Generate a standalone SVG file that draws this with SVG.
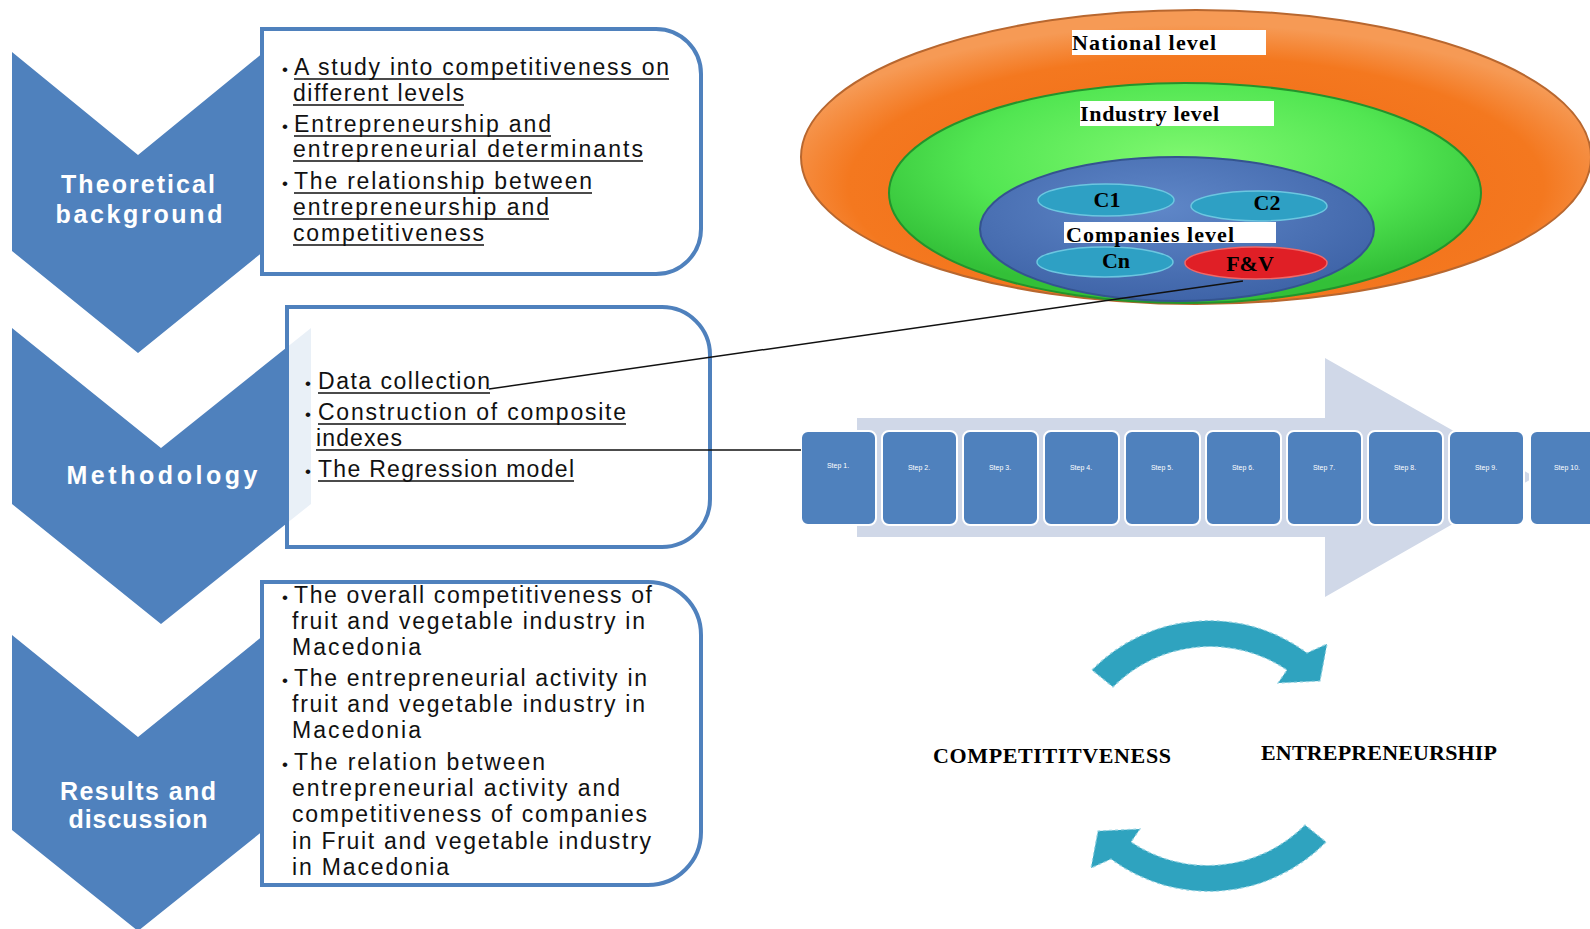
<svg xmlns="http://www.w3.org/2000/svg" width="1590" height="929" viewBox="0 0 1590 929">
  <defs>
    <style>
      .chev { fill: #4f81bd; }
      .box { fill: #ffffff; fill-opacity: 0.88; stroke: #4f81bd; stroke-width: 4; }
      .bt { font-family: "Liberation Sans", Arial, sans-serif; font-size: 23px; fill: #111111; }
      .bul { font-family: "Liberation Sans", Arial, sans-serif; font-size: 17px; fill: #111111; text-anchor: middle; }
      .ul { stroke: #111111; stroke-width: 1.5; fill: none; }
      .lab { font-family: "Liberation Sans", Arial, sans-serif; font-weight: bold; font-size: 25px; fill: #ffffff; text-anchor: middle; }
      .lvl { font-family: "Liberation Serif", "Times New Roman", serif; font-weight: bold; font-size: 22px; fill: #000000; }
      .cid { font-family: "Liberation Serif", "Times New Roman", serif; font-weight: bold; font-size: 22px; fill: #000000; text-anchor: middle; }
      .cap { font-family: "Liberation Serif", "Times New Roman", serif; font-weight: bold; font-size: 22px; fill: #000000; }
      .tag { fill: #ffffff; }
      .step { fill: #4f81bd; stroke: #ffffff; stroke-width: 2; }
      .st { font-family: "Liberation Sans", Arial, sans-serif; font-size: 7px; fill: #ffffff; text-anchor: middle; }
      .cyc { fill: #2fa3bf; stroke: #8fd0e0; stroke-width: 1.2; stroke-dasharray: 3 3; }
      .conn { stroke: #111111; stroke-width: 1.5; fill: none; }
    </style>
    <radialGradient id="gOrange" cx="50%" cy="60%" r="55%">
      <stop offset="0" stop-color="#f06816"/>
      <stop offset="0.8" stop-color="#f4781f"/>
      <stop offset="1" stop-color="#f69a55"/>
    </radialGradient>
    <radialGradient id="gGreen" cx="50%" cy="35%" r="60%">
      <stop offset="0" stop-color="#80f870"/>
      <stop offset="0.6" stop-color="#52e652"/>
      <stop offset="1" stop-color="#33c038"/>
    </radialGradient>
    <radialGradient id="gBlue" cx="45%" cy="35%" r="65%">
      <stop offset="0" stop-color="#5f87c8"/>
      <stop offset="1" stop-color="#3f64a8"/>
    </radialGradient>
  </defs>

  <rect x="0" y="0" width="1590" height="929" fill="#ffffff"/>

  <!-- Left-hand process: chevrons with their bullet boxes -->
  <g id="theoretical-background">
    <path class="chev" d="M12,52 L138,155 L264,52 L264,251 L138,353 L12,251 Z"/>
    <text class="lab" x="138" y="193" textLength="154" lengthAdjust="spacing">Theoretical</text>
    <text class="lab" x="139" y="223" textLength="167" lengthAdjust="spacing">background</text>
  </g>
  <g id="methodology">
    <path class="chev" d="M12,328 L161,448 L311,328 L311,504 L161,624 L12,504 Z"/>
    <text class="lab" x="162" y="484" textLength="191" lengthAdjust="spacing">Methodology</text>
  </g>
  <g id="results-discussion">
    <path class="chev" d="M12,635 L138,737 L264,635 L264,830 L138,931 L12,830 Z"/>
    <text class="lab" x="138" y="800" textLength="156" lengthAdjust="spacing">Results and</text>
    <text class="lab" x="138" y="828" textLength="139" lengthAdjust="spacing">discussion</text>
  </g>

  <g id="box-theory">
    <path class="box" d="M262,29 H656 A45,45 0 0 1 701,74 V229 A45,45 0 0 1 656,274 H262 Z"/>
    <text class="bul" x="285" y="75">•</text>
    <text class="bt" x="294" y="75" textLength="375" lengthAdjust="spacing">A study into competitiveness on</text>
    <text class="bt" x="293" y="101" textLength="171" lengthAdjust="spacing">different levels</text>
    <text class="bul" x="285" y="132">•</text>
    <text class="bt" x="294" y="132" textLength="257" lengthAdjust="spacing">Entrepreneurship and</text>
    <text class="bt" x="293" y="157" textLength="350" lengthAdjust="spacing">entrepreneurial determinants</text>
    <text class="bul" x="285" y="189">•</text>
    <text class="bt" x="294" y="189" textLength="298" lengthAdjust="spacing">The relationship between</text>
    <text class="bt" x="293" y="215" textLength="256" lengthAdjust="spacing">entrepreneurship and</text>
    <text class="bt" x="293" y="241" textLength="191" lengthAdjust="spacing">competitiveness</text>
    <path class="ul" d="M294,79 H669 M293,105 H464 M294,136 H551 M293,161 H643 M294,193 H592 M293,219 H549 M293,245 H484"/>
  </g>

  <g id="box-method">
    <path class="box" d="M287,307 H662 A48,48 0 0 1 710,355 V499 A48,48 0 0 1 662,547 H287 Z"/>
    <text class="bul" x="308" y="389">•</text>
    <text class="bt" x="318" y="389" textLength="172" lengthAdjust="spacing">Data collection</text>
    <text class="bul" x="308" y="420">•</text>
    <text class="bt" x="318" y="420" textLength="308" lengthAdjust="spacing">Construction of composite</text>
    <text class="bt" x="316" y="446" textLength="86" lengthAdjust="spacing">indexes</text>
    <text class="bul" x="308" y="477">•</text>
    <text class="bt" x="318" y="477" textLength="256" lengthAdjust="spacing">The Regression model</text>
    <path class="ul" d="M318,393 H490 M318,424 H626 M316,450 H402 M318,481 H574"/>
  </g>

  <g id="box-results">
    <path class="box" d="M262,582 H648 A53,53 0 0 1 701,635 V832 A53,53 0 0 1 648,885 H262 Z"/>
    <text class="bul" x="285" y="603">•</text>
    <text class="bt" x="294" y="603" textLength="358" lengthAdjust="spacing">The overall competitiveness of</text>
    <text class="bt" x="292" y="629" textLength="353" lengthAdjust="spacing">fruit and vegetable industry in</text>
    <text class="bt" x="292" y="655" textLength="129" lengthAdjust="spacing">Macedonia</text>
    <text class="bul" x="285" y="686">•</text>
    <text class="bt" x="294" y="686" textLength="353" lengthAdjust="spacing">The entrepreneurial activity in</text>
    <text class="bt" x="292" y="712" textLength="353" lengthAdjust="spacing">fruit and vegetable industry in</text>
    <text class="bt" x="292" y="738" textLength="129" lengthAdjust="spacing">Macedonia</text>
    <text class="bul" x="285" y="770">•</text>
    <text class="bt" x="294" y="770" textLength="251" lengthAdjust="spacing">The relation between</text>
    <text class="bt" x="292" y="796" textLength="328" lengthAdjust="spacing">entrepreneurial activity and</text>
    <text class="bt" x="292" y="822" textLength="355" lengthAdjust="spacing">competitiveness of companies</text>
    <text class="bt" x="292" y="849" textLength="359" lengthAdjust="spacing">in Fruit and vegetable industry</text>
    <text class="bt" x="292" y="875" textLength="157" lengthAdjust="spacing">in Macedonia</text>
  </g>

  <!-- Nested levels of competitiveness -->
  <g id="national-level">
    <ellipse cx="1196" cy="157" rx="395" ry="147" fill="url(#gOrange)" stroke="#b8672f" stroke-width="2"/>
    <rect class="tag" x="1072" y="30" width="194" height="25"/>
    <text class="lvl" x="1072" y="50" textLength="144" lengthAdjust="spacing">National level</text>
  </g>
  <g id="industry-level">
    <ellipse cx="1185" cy="193" rx="296" ry="110" fill="url(#gGreen)" stroke="#23932c" stroke-width="2"/>
    <rect class="tag" x="1080" y="101" width="194" height="25"/>
    <text class="lvl" x="1080" y="121" textLength="139" lengthAdjust="spacing">Industry level</text>
  </g>
  <g id="companies-level">
    <ellipse cx="1177" cy="229" rx="197" ry="72" fill="url(#gBlue)" stroke="#34548f" stroke-width="2"/>
    <ellipse cx="1106" cy="200" rx="68" ry="16" fill="#2ea0c4" stroke="#6cc6e0" stroke-width="1.5"/>
    <ellipse cx="1259" cy="206" rx="68" ry="15" fill="#2ea0c4" stroke="#6cc6e0" stroke-width="1.5"/>
    <ellipse cx="1105" cy="262" rx="68" ry="15" fill="#2ea0c4" stroke="#6cc6e0" stroke-width="1.5"/>
    <ellipse cx="1256" cy="263" rx="71" ry="16" fill="#e01f26" stroke="#f06868" stroke-width="1.5"/>
    <rect class="tag" x="1064" y="222" width="212" height="21"/>
    <text class="lvl" x="1066" y="242" textLength="168" lengthAdjust="spacing">Companies level</text>
    <text class="cid" x="1107" y="207">C1</text>
    <text class="cid" x="1267" y="210">C2</text>
    <text class="cid" x="1116" y="268">Cn</text>
    <text class="cid" x="1250" y="271">F&amp;V</text>
  </g>

  <!-- Step sequence on a broad arrow -->
  <g id="step-arrow">
    <path d="M857,418 H1325 V358 L1535,477 L1325,597 V537 H857 Z" fill="#d0d8e8"/>
  </g>
  <g id="steps">
    <rect class="step" x="801" y="431" width="75" height="94" rx="7"/>
    <rect class="step" x="882" y="431" width="75" height="94" rx="7"/>
    <rect class="step" x="963" y="431" width="75" height="94" rx="7"/>
    <rect class="step" x="1044" y="431" width="75" height="94" rx="7"/>
    <rect class="step" x="1125" y="431" width="75" height="94" rx="7"/>
    <rect class="step" x="1206" y="431" width="75" height="94" rx="7"/>
    <rect class="step" x="1287" y="431" width="75" height="94" rx="7"/>
    <rect class="step" x="1368" y="431" width="75" height="94" rx="7"/>
    <rect class="step" x="1449" y="431" width="75" height="94" rx="7"/>
    <rect class="step" x="1530" y="431" width="75" height="94" rx="7"/>
    <text class="st" x="838" y="468">Step 1.</text>
    <text class="st" x="919" y="470">Step 2.</text>
    <text class="st" x="1000" y="470">Step 3.</text>
    <text class="st" x="1081" y="470">Step 4.</text>
    <text class="st" x="1162" y="470">Step 5.</text>
    <text class="st" x="1243" y="470">Step 6.</text>
    <text class="st" x="1324" y="470">Step 7.</text>
    <text class="st" x="1405" y="470">Step 8.</text>
    <text class="st" x="1486" y="470">Step 9.</text>
    <text class="st" x="1567" y="470">Step 10.</text>
  </g>

  <!-- Mutual cycle between the two concepts -->
  <g id="cycle-top">
    <path class="cyc" d="M1092,670 A164,164 0 0 1 1307,653 L1327,644 L1320,681 L1278,683 L1287,670 A137,137 0 0 0 1113,687 Z"/>
  </g>
  <g id="cycle-bottom">
    <path class="cyc" transform="rotate(180 1209 756)" d="M1092,670 A164,164 0 0 1 1307,653 L1327,644 L1320,681 L1278,683 L1287,670 A137,137 0 0 0 1113,687 Z"/>
  </g>
  <g id="competitiveness">
    <text class="cap" x="933" y="763" textLength="238" lengthAdjust="spacing">COMPETITITVENESS</text>
  </g>
  <g id="entrepreneurship">
    <text class="cap" x="1261" y="760" textLength="236" lengthAdjust="spacing">ENTREPRENEURSHIP</text>
  </g>

  <!-- Connectors -->
  <g id="connectors">
    <path class="conn" d="M489,389 L1243,281"/>
    <path class="conn" d="M402,450 H801"/>
  </g>
</svg>
